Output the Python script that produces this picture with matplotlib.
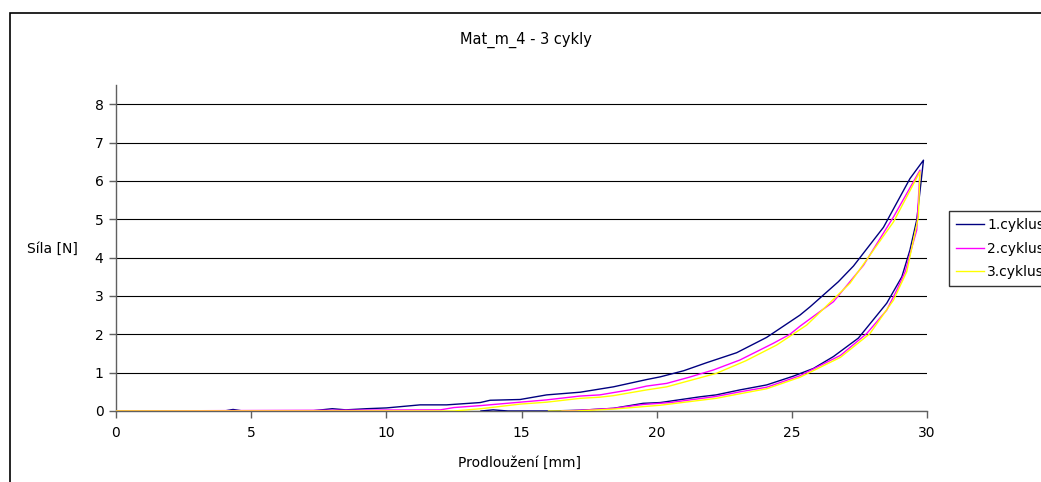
import matplotlib
matplotlib.use("Agg")
import matplotlib.pyplot as plt
from matplotlib.patches import Rectangle

plt.rcParams['font.family'] = ['DejaVu Sans']

# Cycle 1: loading branch then unloading branch (elongation mm, force N)
c1_load_x = [0, 4.0, 4.33, 4.7, 7.2, 8.0, 8.5, 9.27, 10.0, 11.25, 12.23, 13.47, 13.84,
             14.95, 15.93, 17.17, 18.4, 19.63, 20.13, 21.0, 21.85, 22.96, 24.07, 25.3,
             25.68, 26.72, 27.28, 28.39, 29.37, 29.87]
c1_load_y = [0, 0, 0.04, 0, 0, 0.06, 0.03, 0.06, 0.08, 0.16, 0.16, 0.22, 0.28,
             0.30, 0.42, 0.49, 0.63, 0.82, 0.89, 1.05, 1.26, 1.52, 1.92, 2.50,
             2.72, 3.37, 3.78, 4.79, 6.06, 6.54]
c1_unload_x = [29.62, 29.37, 29.07, 28.51, 27.46, 26.54, 25.80, 25.06, 24.07, 23.08,
               22.2, 21.6, 20.13, 19.5, 18.4, 17.17, 16.0, 14.5, 13.95, 13.5]
c1_unload_y = [4.98, 4.20, 3.50, 2.81, 1.90, 1.42, 1.11, 0.91, 0.68, 0.55,
               0.42, 0.37, 0.22, 0.20, 0.07, 0.02, 0.0, 0.0, 0.03, 0.0]

# Cycle 2
c2_load_x = [0, 12.0, 12.5, 13.47, 14.95, 15.93, 17.17, 17.9, 18.4, 19.0, 19.63, 20.37,
             21.2, 22.1, 23.08, 24.3, 24.93, 25.3, 26.54, 27.65, 28.76, 29.74]
c2_load_y = [0, 0.03, 0.09, 0.14, 0.23, 0.29, 0.39, 0.42, 0.48, 0.55, 0.65, 0.72,
             0.88, 1.07, 1.33, 1.76, 2.00, 2.21, 2.85, 3.80, 5.06, 6.28]
c2_unload_x = [29.62, 29.19, 28.88, 28.51, 27.77, 26.8, 25.3, 24.07, 23.08, 22.2,
               20.5, 19.5, 18.4, 17.2, 16.5]
c2_unload_y = [4.72, 3.63, 3.15, 2.63, 2.02, 1.45, 0.92, 0.62, 0.50, 0.38,
               0.22, 0.17, 0.07, 0.02, 0.0]

# Cycle 3
c3_load_x = [0, 12.5, 13.5, 14.95, 15.93, 17.17, 17.9, 18.4, 19.63, 20.37, 22.2, 23.3,
             24.44, 25.55, 27.15, 28.76, 29.74]
c3_load_y = [0, 0.0, 0.06, 0.18, 0.23, 0.33, 0.36, 0.40, 0.55, 0.63, 0.98, 1.31,
             1.72, 2.24, 3.33, 4.93, 6.24]
c3_unload_x = [29.68, 29.5, 29.25, 28.76, 27.89, 26.8, 25.3, 24.07, 23.08, 22.2,
               20.13, 18.4, 17.0, 16.0]
c3_unload_y = [5.06, 4.46, 3.63, 2.89, 2.02, 1.40, 0.88, 0.58, 0.45, 0.33,
               0.15, 0.05, 0.0, 0.0]

series_names = ["1.cyklus", "2.cyklus", "3.cyklus"]
series_colors = ["#000080", "#FF00FF", "#FFFF00"]
x_ticks = [0, 5, 10, 15, 20, 25, 30]
y_ticks = [0, 1, 2, 3, 4, 5, 6, 7, 8]

W, H = 1041, 482
fig = plt.figure(figsize=(W / 100, H / 100), dpi=100)

# outer chart frame
fig.patches.append(Rectangle((10 / W, -0.1), 1.2, (H - 13) / H + 0.1,
                             transform=fig.transFigure, fill=False,
                             edgecolor="black", linewidth=1.2))

ax = fig.add_axes([116 / W, (H - 411) / H, (927 - 116) / W, (411 - 85) / H])

curves = [
    (c1_load_x + c1_unload_x, c1_load_y + c1_unload_y),
    (c2_load_x + c2_unload_x, c2_load_y + c2_unload_y),
    (c3_load_x + c3_unload_x, c3_load_y + c3_unload_y),
]
for (xs, ys), name, col in zip(curves, series_names, series_colors):
    ax.plot(xs, ys, color=col, linewidth=1.0, label=name, zorder=3)

ax.set_xlim(0, 30)
ax.set_ylim(0, 8.5)
ax.set_xticks(x_ticks)
ax.set_yticks(y_ticks)
ax.yaxis.grid(True, color="black", linewidth=0.8)
ax.set_axisbelow(True)
for s in ("top", "right"):
    ax.spines[s].set_visible(False)
for s in ("left", "bottom"):
    ax.spines[s].set_color("#606060")
    ax.spines[s].set_linewidth(1.0)
ax.tick_params(axis="both", direction="out", length=5, width=1.0,
               color="#606060", labelsize=10, pad=4)
ax.tick_params(axis="x", pad=6)

fig.text(526 / W, 1 - 40 / H, "Mat_m_4 - 3 cykly", ha="center", va="center", fontsize=10.5)
fig.text(52 / W, 1 - 249 / H, "Síla [N]", ha="center", va="center", fontsize=10)
fig.text(520 / W, 1 - 463 / H, "Prodloužení [mm]", ha="center", va="center", fontsize=10)

leg = fig.legend(loc="upper left", bbox_to_anchor=(949 / W, 1 - 211 / H),
                 bbox_transform=fig.transFigure, frameon=True, fancybox=False,
                 edgecolor="black", fontsize=10, handlelength=2.0,
                 handletextpad=0.25, labelspacing=0.69, borderpad=0.5,
                 borderaxespad=0)
leg.get_frame().set_linewidth(1.0)

fig.savefig("out.png", dpi=100)
